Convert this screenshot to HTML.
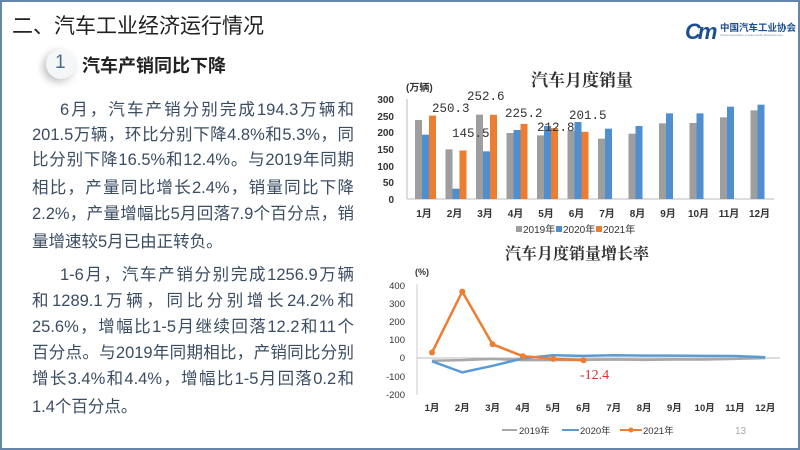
<!DOCTYPE html>
<html><head><meta charset="utf-8"><style>
html,body{margin:0;padding:0;background:#fff}
#s{position:relative;width:800px;height:450px;overflow:hidden;background:#fff;font-family:"Liberation Sans","Noto Sans CJK SC",sans-serif;box-sizing:border-box;border:2px solid #6585aa}
.t{position:absolute;white-space:nowrap}
.ln{position:absolute;left:30px;width:322px;font-size:16.5px;color:#3b4d62;text-align:justify;text-align-last:justify;height:24px;line-height:24px;white-space:nowrap}
.ln.i{left:58px;width:294px}
.ln.l{text-align-last:left}
</style></head><body><div id="s">
<div class="t" style="left:10px;top:8px;font-size:21px;color:#222">二、汽车工业经济运行情况</div>
<div class="t" style="left:683px;top:17px;font-size:22px;font-weight:bold;font-style:italic;color:#1d4f8e;letter-spacing:-3px">Cm</div>
<div class="t" style="left:718px;top:18px;font-size:9.5px;font-weight:bold;color:#1d4f8e">中国汽车工业协会</div>
<div class="t" style="left:718px;top:31px;font-size:3px;color:#7890b0">China Association of Automobile Manufacturers</div>
<div style="position:absolute;left:44px;top:47px;width:30px;height:30px;border-radius:50%;background:#f4f6f8;box-shadow:-3px 3px 8px rgba(0,0,0,0.25)"></div>
<div class="t" style="left:53px;top:50px;font-size:19px;color:#4a6a8e">1</div>
<div class="t" style="left:80px;top:50px;font-size:18px;font-weight:bold;color:#222">汽车产销同比下降</div>

<div class="ln i" style="top:96px">6月，汽车产销分别完成194.3万辆和</div>
<div class="ln" style="top:121px">201.5万辆，环比分别下降4.8%和5.3%，同</div>
<div class="ln" style="top:146px">比分别下降16.5%和12.4%。与2019年同期</div>
<div class="ln" style="top:174px">相比，产量同比增长2.4%，销量同比下降</div>
<div class="ln" style="top:200px">2.2%，产量增幅比5月回落7.9个百分点，销</div>
<div class="ln l" style="top:228px">量增速较5月已由正转负。</div>
<div class="ln i" style="top:261px">1-6月，汽车产销分别完成1256.9万辆</div>
<div class="ln" style="top:287px">和1289.1万辆，同比分别增长24.2%和</div>
<div class="ln" style="top:313px">25.6%，增幅比1-5月继续回落12.2和11个</div>
<div class="ln" style="top:339px">百分点。与2019年同期相比，产销同比分别</div>
<div class="ln" style="top:365px">增长3.4%和4.4%，增幅比1-5月回落0.2和</div>
<div class="ln l" style="top:393px">1.4个百分点。</div>

<svg style="position:absolute;left:0;top:0" width="800" height="450" font-family="Liberation Sans,Noto Sans CJK SC,sans-serif">
<text x="580" y="84" font-size="17" text-anchor="middle" font-family="Noto Serif CJK SC,serif" font-weight="bold" fill="#333">汽车月度销量</text>
<text x="404" y="89" font-size="10" font-weight="bold" fill="#333">(万辆)</text>
<g font-size="10" fill="#333" text-anchor="end" font-weight="bold">
<text x="392" y="101">300</text><text x="392" y="118">250</text><text x="392" y="134">200</text><text x="392" y="151">150</text><text x="392" y="168">100</text><text x="392" y="184">50</text><text x="392" y="201">0</text></g>
<line x1="405" y1="97" x2="405" y2="197" stroke="#bbb"/>
<line x1="405" y1="197" x2="772" y2="197" stroke="#bbb"/>
<g transform="translate(0,197) scale(1,-0.3333)" stroke="#fff" stroke-width="0">
<g fill="#9e9e9e"><rect x="413" width="7" height="237"/><rect x="443.5" width="7" height="149"/><rect x="474" width="7" height="253"/><rect x="504.5" width="7" height="198"/><rect x="535" width="7" height="191"/><rect x="565.5" width="7" height="205"/><rect x="596" width="7" height="181"/><rect x="626.5" width="7" height="196"/><rect x="657" width="7" height="227"/><rect x="687.5" width="7" height="228"/><rect x="718" width="7" height="245"/><rect x="748.5" width="7" height="266"/></g>
<g fill="#4f8fd0"><rect x="420" width="7" height="193"/><rect x="450.5" width="7" height="31"/><rect x="481" width="7" height="143"/><rect x="511.5" width="7" height="207"/><rect x="542" width="7" height="219"/><rect x="572.5" width="7" height="231"/><rect x="603" width="7" height="211"/><rect x="633.5" width="7" height="219"/><rect x="664" width="7" height="257"/><rect x="694.5" width="7" height="257"/><rect x="725" width="7" height="277"/><rect x="755.5" width="7" height="283"/></g>
<g fill="#ed7d31"><rect x="427" width="7" height="250.3"/><rect x="457.5" width="7" height="145.5"/><rect x="488" width="7" height="252.6"/><rect x="518.5" width="7" height="225.2"/><rect x="549" width="7" height="212.8"/><rect x="579.5" width="7" height="201.5"/></g>
</g>
<g font-size="12.5" fill="#333" font-family="Liberation Mono,monospace">
<text x="430" y="110">250.3</text><text x="465" y="98">252.6</text><text x="450" y="135">145.5</text><text x="503" y="115">225.2</text><text x="535" y="129">212.8</text><text x="567" y="117">201.5</text></g>
<g font-size="10" fill="#333" text-anchor="middle" font-weight="bold">
<text x="422" y="215">1月</text><text x="452.5" y="215">2月</text><text x="483" y="215">3月</text><text x="513.5" y="215">4月</text><text x="544" y="215">5月</text><text x="574.5" y="215">6月</text><text x="605" y="215">7月</text><text x="635.5" y="215">8月</text><text x="666" y="215">9月</text><text x="696.5" y="215">10月</text><text x="727" y="215">11月</text><text x="757.5" y="215">12月</text></g>
<g font-size="10" fill="#333"><rect x="514" y="224" width="6" height="6" fill="#9e9e9e"/><text x="521" y="231">2019年</text><rect x="554" y="224" width="6" height="6" fill="#4f8fd0"/><text x="561" y="231">2020年</text><rect x="594" y="224" width="6" height="6" fill="#ed7d31"/><text x="601" y="231">2021年</text></g>

<text x="575" y="257" font-size="16" text-anchor="middle" font-family="Noto Serif CJK SC,serif" font-weight="bold" fill="#333">汽车月度销量增长率</text>
<text x="413" y="273" font-size="9" font-weight="bold" fill="#333">(%)</text>
<g font-size="9.5" fill="#333" text-anchor="end"><text x="403" y="287">400</text><text x="403" y="305">300</text><text x="403" y="323">200</text><text x="403" y="341">100</text><text x="403" y="359">0</text><text x="403" y="378">-100</text><text x="403" y="396">-200</text></g>
<line x1="415" y1="282" x2="415" y2="393" stroke="#ccc"/>
<line x1="415" y1="356" x2="778" y2="356" stroke="#bbb"/>
<g transform="translate(0,356) scale(1,-0.182)" fill="none" stroke-width="2.5" stroke-linejoin="round">
<polyline vector-effect="non-scaling-stroke" stroke="#a8a8a8" points="430,-15 460.3,-12 490.6,-5 520.9,-12 551.2,-12 581.5,-10 611.8,-8 642.1,-10 672.4,-8 702.7,-8 733,-5 763.3,0"/>
<polyline vector-effect="non-scaling-stroke" stroke="#5b9bd5" points="430,-18 460.3,-79 490.6,-43 520.9,-2 551.2,15 581.5,12 611.8,15 642.1,13 672.4,13 702.7,12 733,11 763.3,4"/>
<polyline vector-effect="non-scaling-stroke" stroke="#ed7d31" points="430,30 460.3,365 490.6,75 520.9,10 551.2,-5 581.5,-12.4"/>
</g>
<g fill="#ed7d31"><circle cx="430" cy="350.5" r="3"/><circle cx="460.3" cy="289.6" r="3"/><circle cx="490.6" cy="342.3" r="3"/><circle cx="520.9" cy="354.2" r="3"/><circle cx="551.2" cy="356.9" r="3"/><circle cx="581.5" cy="358.3" r="3"/></g>
<text x="578" y="377" font-size="14" fill="#d9302c" font-family="Liberation Serif,serif">-12.4</text>
<g font-size="9.5" fill="#333" text-anchor="middle" font-weight="bold">
<text x="430" y="409">1月</text><text x="460.3" y="409">2月</text><text x="490.6" y="409">3月</text><text x="520.9" y="409">4月</text><text x="551.2" y="409">5月</text><text x="581.5" y="409">6月</text><text x="611.8" y="409">7月</text><text x="642.1" y="409">8月</text><text x="672.4" y="409">9月</text><text x="702.7" y="409">10月</text><text x="733" y="409">11月</text><text x="763.3" y="409">12月</text></g>
<g font-size="9.5" fill="#333"><line x1="500" y1="428" x2="515" y2="428" stroke="#a8a8a8" stroke-width="2"/><text x="517" y="432">2019年</text>
<line x1="560" y1="428" x2="577" y2="428" stroke="#5b9bd5" stroke-width="2"/><text x="578" y="432">2020年</text>
<line x1="618" y1="428" x2="640" y2="428" stroke="#ed7d31" stroke-width="2"/><circle cx="629" cy="428" r="2.5" fill="#ed7d31"/><text x="641" y="432">2021年</text>
<text x="733" y="432" fill="#aaa" font-size="10">13</text></g>
</svg>
</div></body></html>
